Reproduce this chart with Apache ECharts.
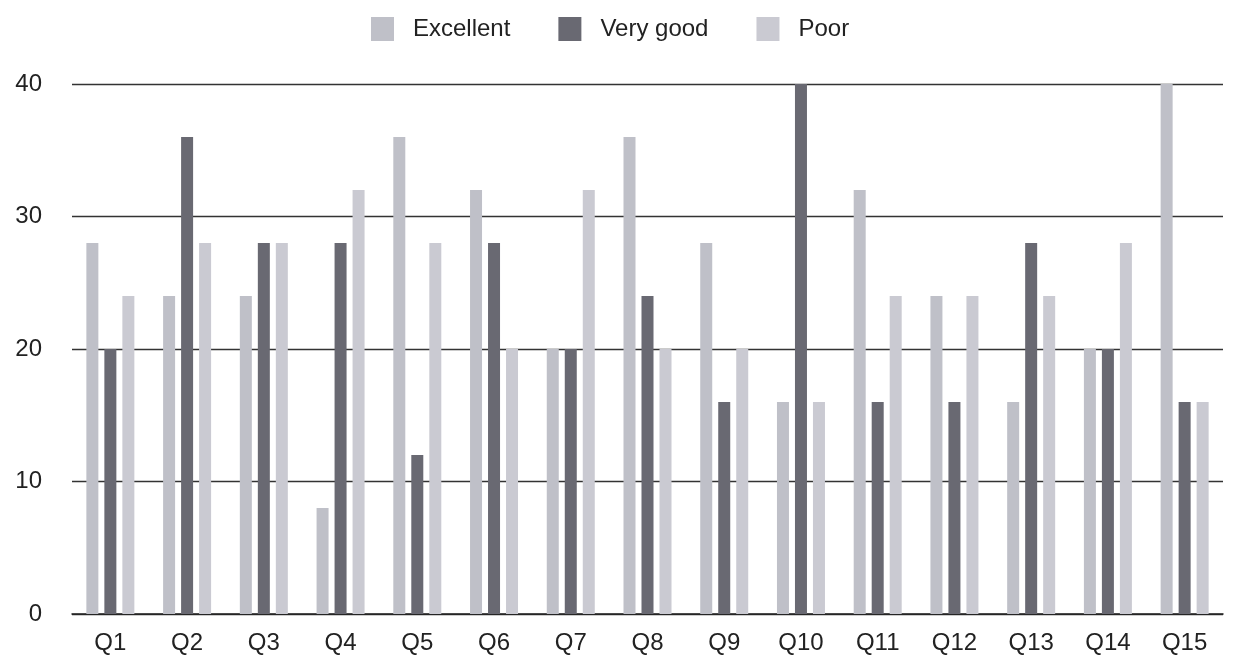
<!DOCTYPE html>
<html><head><meta charset="utf-8">
<script src="https://cdn.jsdelivr.net/npm/echarts@6/dist/echarts.min.js"></script>
<style>html,body{margin:0;padding:0;background:#fff}#c{width:1236px;height:663px}</style>
</head><body><div id="c"></div>
<script>
const categories = ['Q1','Q2','Q3','Q4','Q5','Q6','Q7','Q8','Q9','Q10','Q11','Q12','Q13','Q14','Q15'];
const excellent = [28,24,24,8,36,32,20,36,28,16,32,24,16,20,40];
const veryGood  = [20,36,28,28,12,28,20,24,16,40,16,16,28,20,16];
const poor      = [24,28,28,32,28,20,32,20,20,16,24,24,24,28,16];
const yTicks = [0,10,20,30,40];

const chart = echarts.init(document.getElementById('c'));
const font = 'Liberation Sans, Arial, sans-serif';
chart.setOption({
  animation: false,
  textStyle: {fontFamily: font},
  legend: {
    top: 12, left: 366, itemWidth: 23, itemHeight: 24, itemGap: 48, icon: 'rect',
    textStyle: {fontSize: 24, color: '#222', fontFamily: font, padding: [0, 0, 0, 14]},
    data: ['Excellent','Very good','Poor']
  },
  grid: {left: 72, right: 13, top: 84, bottom: 49},
  xAxis: {
    type: 'category', data: categories, boundaryGap: true,
    axisLine: {lineStyle: {color: '#222', width: 1.5}},
    axisTick: {show: false},
    axisLabel: {fontSize: 24, color: '#222', margin: 17, fontFamily: font}
  },
  yAxis: {
    type: 'value', min: yTicks[0], max: yTicks[yTicks.length-1], interval: 10,
    axisLine: {show: false}, axisTick: {show: false},
    axisLabel: {fontSize: 24, color: '#222', margin: 30, fontFamily: font},
    splitLine: {lineStyle: {color: '#333', width: 1.3}}
  },
  series: [
    {name: 'Excellent', type: 'bar', data: excellent, barWidth: 12, barGap: '50%', itemStyle: {color: '#bfc0c8'}},
    {name: 'Very good', type: 'bar', data: veryGood, barWidth: 12, barGap: '50%', itemStyle: {color: '#696972'}},
    {name: 'Poor', type: 'bar', data: poor, barWidth: 12, barGap: '50%', itemStyle: {color: '#cacad2'}}
  ]
});
</script></body></html>
